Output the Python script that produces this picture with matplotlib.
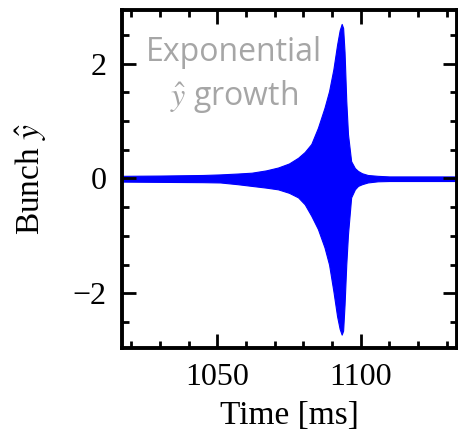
import matplotlib
matplotlib.use("Agg")
import matplotlib.pyplot as plt
from matplotlib.ticker import MultipleLocator
import numpy as np

plt.rcParams["font.family"] = ["Liberation Serif", "DejaVu Serif"]
plt.rcParams["mathtext.fontset"] = "stix"

BLUE = "#0000ff"
GREY = "#a6a6a6"

# envelope of the bunch oscillation
time_ms = [1016, 1030, 1045, 1051, 1057, 1062, 1067, 1071.2, 1075, 1078.2, 1080.5, 1082.8,
           1085.1, 1087.4, 1089, 1090.5, 1091.8, 1092.7, 1093.4, 1093.9, 1094.4, 1095.0,
           1095.6, 1096.7, 1098.0, 1099.1, 1100.5, 1102.5, 1106.0, 1110.0, 1120.0, 1134.0]
upper = [0.045, 0.05, 0.06, 0.07, 0.085, 0.10, 0.14, 0.19, 0.26, 0.36, 0.46, 0.60,
         0.88, 1.23, 1.52, 1.90, 2.33, 2.58, 2.69, 2.62, 2.20, 1.35,
         0.77, 0.30, 0.18, 0.13, 0.09, 0.06, 0.045, 0.035, 0.035, 0.035]
lower = [-0.055, -0.06, -0.065, -0.07, -0.10, -0.13, -0.16, -0.19, -0.25, -0.33, -0.45, -0.65,
         -0.88, -1.20, -1.50, -1.96, -2.40, -2.62, -2.72, -2.65, -2.20, -1.50,
         -0.97, -0.33, -0.19, -0.13, -0.10, -0.07, -0.05, -0.045, -0.045, -0.045]

fig = plt.figure(figsize=(4.58, 4.42), dpi=100)
ax = fig.add_axes([0.266, 0.213, 0.731, 0.764])

ax.fill_between(time_ms, lower, upper, color=BLUE, linewidth=0.8, edgecolor=BLUE)

ax.set_xlim(1016.7, 1133.5)
ax.set_ylim(-2.95, 2.93)
ax.xaxis.set_major_locator(MultipleLocator(50))
ax.xaxis.set_minor_locator(MultipleLocator(10))
ax.yaxis.set_major_locator(MultipleLocator(2))
ax.yaxis.set_minor_locator(MultipleLocator(0.5))
ax.tick_params(which="both", direction="in", top=True, right=True, width=2, labelsize=23)
ax.tick_params(which="major", length=10, pad=11)
ax.tick_params(which="minor", length=5)
for spine in ax.spines.values():
    spine.set_linewidth(2.8)

ax.set_xlabel("Time [ms]", fontsize=24, labelpad=6)
ax.set_ylabel(r"Bunch $\hat{y}$", fontsize=24, labelpad=17)

ax.text(0.336, 0.876, "Exponential", transform=ax.transAxes, ha="center", va="center",
        color=GREY, fontsize=23, family=["Open Sans", "DejaVu Sans"])
ax.text(0.336, 0.743, r"$\hat{y}$ growth", transform=ax.transAxes, ha="center", va="center",
        color=GREY, fontsize=23, family=["Open Sans", "DejaVu Sans"])

fig.savefig("out.png", dpi=100)
